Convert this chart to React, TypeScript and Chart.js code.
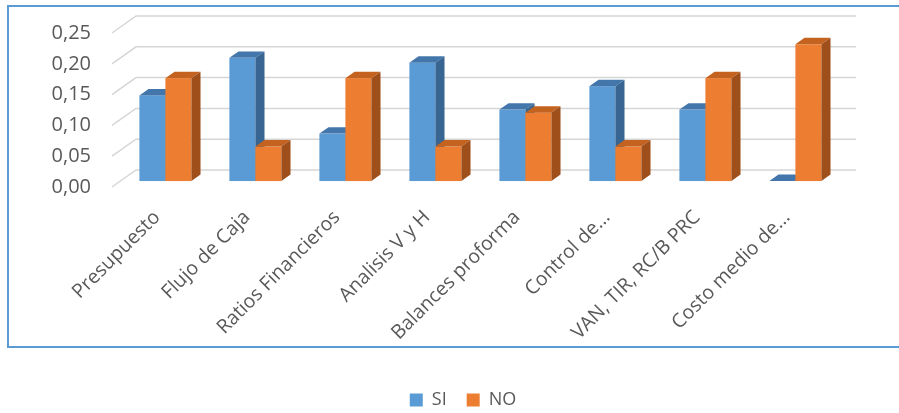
import React, { useEffect, useRef } from "react";
import { Chart, registerables } from "chart.js";

Chart.register(...registerables);

// Categories and series shares
const categories = [
  "Presupuesto",
  "Flujo de Caja",
  "Ratios Financieros",
  "Analisis V y H",
  "Balances proforma",
  "Control de...",
  "VAN, TIR, RC/B PRC",
  "Costo medio de...",
];
const siValues = [0.139, 0.2, 0.077, 0.192, 0.116, 0.154, 0.116, 0];
const noValues = [0.167, 0.056, 0.167, 0.056, 0.111, 0.056, 0.167, 0.222];
const yTicks = [0, 0.05, 0.1, 0.15, 0.2, 0.25];

// Face colours for the 3D columns
const faces = [
  { front: "#5b9bd5", top: "#4377ab", side: "#386591" },
  { front: "#ed7d31", top: "#c4631f", side: "#9e4f1a" },
];

// Depth of the floor / walls and the slab the columns occupy within it
const DEPTH_X = 24;
const DEPTH_Y = 17;
const FRONT_F = 0.35;
const BACK_F = 0.73;

const TEXT = "#595959";
const FONT = "'Open Sans', sans-serif";

const threeD = {
  id: "threeD",
  afterLayout(chart: any) {
    // centre the legend row under the walls rather than the full canvas
    if (chart.legend) chart.legend.left = 94;
  },
  beforeDraw(chart: any) {
    const { ctx } = chart;
    ctx.save();
    ctx.fillStyle = "#ffffff";
    ctx.fillRect(0, 0, chart.width, chart.height);
    ctx.strokeStyle = "#5b9bd5";
    ctx.lineWidth = 2;
    ctx.strokeRect(8, 6, 910, 341);
    ctx.restore();
  },
  beforeDatasetsDraw(chart: any) {
    const { ctx, chartArea } = chart;
    const y = chart.scales.y;
    ctx.save();
    ctx.strokeStyle = "#d6d6d6";
    ctx.lineWidth = 1.5;
    for (const t of y.ticks) {
      const py = y.getPixelForValue(t.value);
      ctx.beginPath();
      ctx.moveTo(chartArea.left, py);
      ctx.lineTo(chartArea.left + DEPTH_X, py - DEPTH_Y);
      ctx.lineTo(chartArea.right + DEPTH_X, py - DEPTH_Y);
      ctx.stroke();
    }
    ctx.restore();
  },
  beforeDatasetDraw() {
    return false;
  },
  afterDatasetsDraw(chart: any) {
    const { ctx } = chart;
    const ox = FRONT_F * DEPTH_X;
    const oy = -FRONT_F * DEPTH_Y;
    const dx = (BACK_F - FRONT_F) * DEPTH_X;
    const dy = -(BACK_F - FRONT_F) * DEPTH_Y;
    ctx.save();
    chart.data.datasets.forEach((_: any, di: number) => {
      const meta = chart.getDatasetMeta(di);
      const c = faces[di];
      meta.data.forEach((el: any) => {
        const { x, y, base, width } = el.getProps(["x", "y", "base", "width"], true);
        const x0 = x - width / 2 + ox;
        const x1 = x + width / 2 + ox;
        const t = y + oy;
        const b = base + oy;
        // front
        if (b - t > 0.5) {
          ctx.fillStyle = c.front;
          ctx.fillRect(x0, t, x1 - x0, b - t);
        }
        // top
        ctx.fillStyle = c.top;
        ctx.beginPath();
        ctx.moveTo(x0, t);
        ctx.lineTo(x1, t);
        ctx.lineTo(x1 + dx, t + dy);
        ctx.lineTo(x0 + dx, t + dy);
        ctx.closePath();
        ctx.fill();
        // side
        if (b - t > 0.5) {
          ctx.fillStyle = c.side;
          ctx.beginPath();
          ctx.moveTo(x1, t);
          ctx.lineTo(x1 + dx, t + dy);
          ctx.lineTo(x1 + dx, b + dy);
          ctx.lineTo(x1, b);
          ctx.closePath();
          ctx.fill();
        }
      });
    });
    ctx.restore();
  },
};

export default function App() {
  const ref = useRef<HTMLCanvasElement>(null);

  useEffect(() => {
    if (!ref.current) return;
    const chart = new Chart(ref.current, {
      type: "bar",
      data: {
        labels: categories,
        datasets: [
          { label: "SI", data: siValues, backgroundColor: faces[0].front },
          { label: "NO", data: noValues, backgroundColor: faces[1].front },
        ],
      },
      options: {
        animation: false,
        responsive: false,
        devicePixelRatio: 1,
        events: [],
        layout: { padding: { left: 10, right: 67, top: 30.5, bottom: 1 } },
        datasets: { bar: { categoryPercentage: 0.578, barPercentage: 1 } },
        plugins: {
          tooltip: { enabled: false },
          legend: {
            position: "bottom",
            labels: {
              boxWidth: 13,
              boxHeight: 13,
              padding: 20,
              color: TEXT,
              font: { family: FONT, size: 18 },
            },
          },
        },
        scales: {
          x: {
            grid: { display: false, drawTicks: false },
            border: { display: false },
            ticks: {
              autoSkip: false,
              minRotation: 45,
              maxRotation: 45,
              padding: 19,
              color: TEXT,
              font: { family: FONT, size: 19.5 },
            },
            afterFit(scale: any) {
              scale.height = 184;
            },
          },
          y: {
            min: 0,
            max: 0.25,
            grid: { display: false, drawTicks: false },
            border: { display: false },
            afterBuildTicks(scale: any) {
              scale.ticks = yTicks.map((v) => ({ value: v }));
            },
            ticks: {
              padding: 21,
              color: TEXT,
              font: { family: FONT, size: 20 },
              callback: (v: any) => Number(v).toFixed(2).replace(".", ","),
            },
            afterFit(scale: any) {
              scale.width = 102;
            },
          },
        },
      },
      plugins: [threeD],
    });
    return () => chart.destroy();
  }, []);

  return (
    <div
      style={{
        position: "absolute",
        left: 0,
        top: 0,
        width: 899,
        height: 413,
        overflow: "hidden",
        background: "#ffffff",
      }}
    >
      <canvas ref={ref} width={899} height={420} style={{ display: "block" }} />
    </div>
  );
}
